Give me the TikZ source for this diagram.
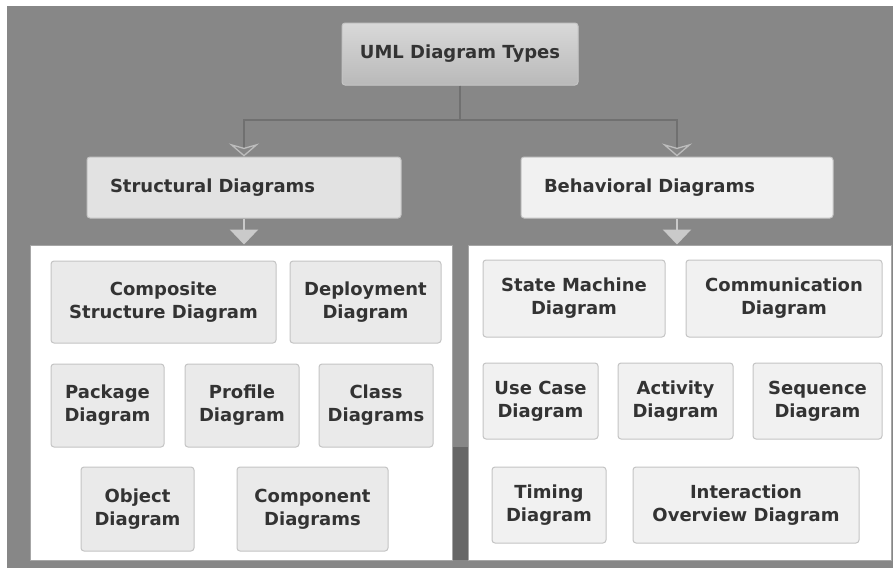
\documentclass[tikz,border=0pt]{standalone}
\usepackage{fontspec}
\setmainfont{DejaVu Sans}
\usetikzlibrary{arrows.meta}

\definecolor{backgray}{HTML}{878787}
\definecolor{boxline}{HTML}{C4C4C4}
\definecolor{boxfill}{HTML}{EAEAEA}
\definecolor{boxfillb}{HTML}{F1F1F1}
\definecolor{textgray}{HTML}{333333}
\definecolor{linegray}{HTML}{707070}
\definecolor{tipgray}{HTML}{BDBDBD}
\definecolor{stripgray}{HTML}{666666}

\tikzset{
  kind/.style 2 args={draw=boxline, fill=boxfill, line width=1pt, rounded corners=3pt,
    inner sep=0pt, align=center, text=textgray,
    font=\bfseries\fontsize{18}{23}\selectfont,
    minimum width=#1pt, minimum height=#2pt},
  kindb/.style 2 args={kind={#1}{#2}, fill=boxfillb},
  group/.style 2 args={kind={#1}{#2}, text width=#1pt-46pt, align=left, inner xsep=23pt},
  panel/.style 2 args={draw=gray!70, fill=white, line width=1pt, inner sep=0pt,
    minimum width=#1pt, minimum height=#2pt},
  branch/.style={draw=linegray, line width=1.3pt,
    -{Stealth[open, length=13pt, width=30pt, color=tipgray, line width=1.3pt]}},
  drop/.style={draw=tipgray!80, line width=2.5pt,
    -{Triangle[length=15pt, width=28pt, color=tipgray!80]}}
}

\begin{document}
\begin{tikzpicture}[x=1pt, y=-1pt]
    \useasboundingbox (0,0) rectangle (893,568);
    \fill[backgray] (7,6) rectangle (893,568);

    \node[kind={236}{62}, top color=gray!30, bottom color=gray!55] (title) at (460,54) {UML Diagram Types};
    \node[group={314}{61}, fill=gray!23] (struct) at (244,187.5) {Structural Diagrams};
    \node[group={312}{61}, fill=boxfillb] (behav) at (677,187.5) {Behavioral Diagrams};

    \node[panel={422}{315}] (structpanel) at (241,402.5) {};
    \node[panel={423}{315}] (behavpanel) at (679.5,402.5) {};
    \fill[stripgray] (452.5,447) rectangle (467.5,560);

    \coordinate (fork) at (460,120);
    \draw[branch] (title.south) -- (fork) -| (struct.north);
    \draw[branch] (title.south) -- (fork) -| (behav.north);
    \draw[drop] (struct.south) to (struct.south |- structpanel.north);
    \draw[drop] (behav.south) to (behav.south |- behavpanel.north);

    % structural
    \node[kind={225}{82}] (composite) at (163.5,302) {Composite\\Structure Diagram};
    \node[kind={151}{82}] (deployment) at (365.5,302) {Deployment\\Diagram};
    \node[kind={113}{83}] (package) at (107.5,405.5) {Package\\Diagram};
    \node[kind={114}{83}] (profile) at (242,405.5) {Profile\\Diagram};
    \node[kind={114}{83}] (class) at (376,405.5) {Class\\Diagrams};
    \node[kind={113}{84}] (object) at (137.5,509) {Object\\Diagram};
    \node[kind={151}{84}] (component) at (312.5,509) {Component\\Diagrams};

    % behavioral
    \node[kindb={182}{77}] (statemachine) at (574,298.5) {State Machine\\Diagram};
    \node[kindb={196}{77}] (communication) at (784,298.5) {Communication\\Diagram};
    \node[kindb={115}{76}] (usecase) at (540.5,401) {Use Case\\Diagram};
    \node[kindb={115}{76}] (activity) at (675.5,401) {Activity\\Diagram};
    \node[kindb={129}{76}] (sequence) at (817.5,401) {Sequence\\Diagram};
    \node[kindb={114}{76}] (timing) at (549,505) {Timing\\Diagram};
    \node[kindb={226}{76}] (interaction) at (746,505) {Interaction\\Overview Diagram};

\end{tikzpicture}
\end{document}
